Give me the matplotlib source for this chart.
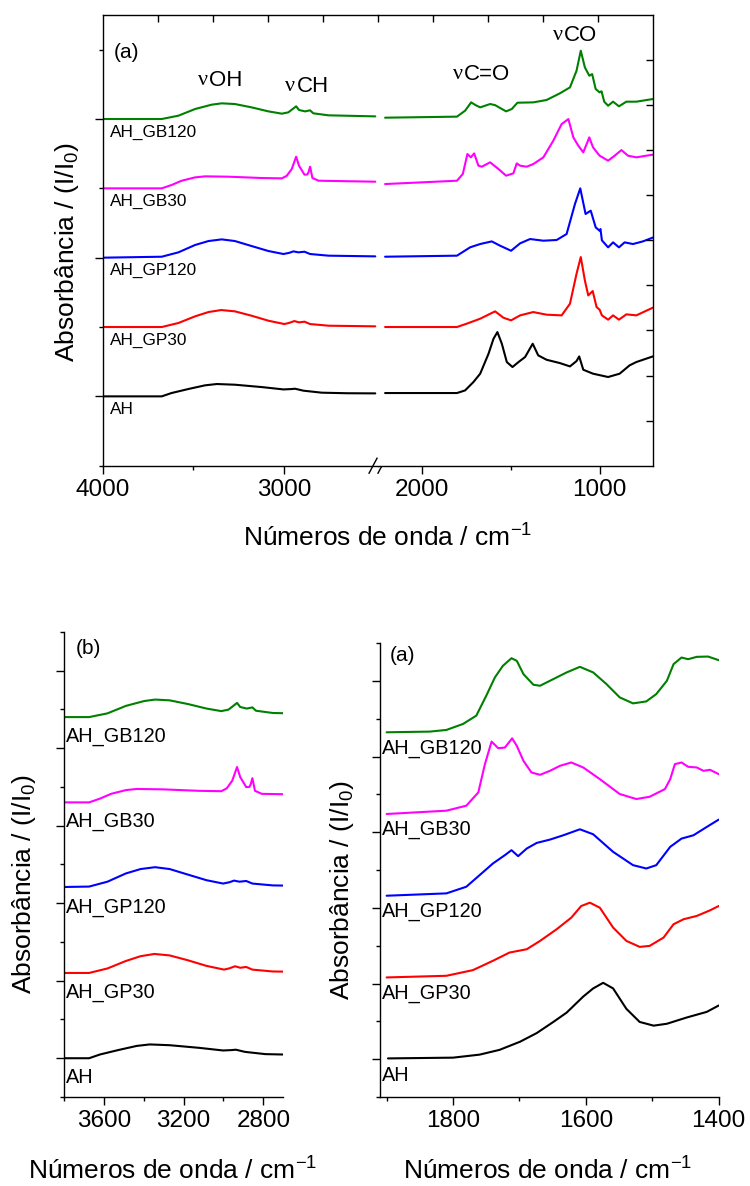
import numpy as np
import matplotlib.pyplot as plt
from matplotlib.ticker import MultipleLocator, FixedLocator

plt.rcParams['font.family'] = ['Liberation Sans', 'DejaVu Sans']
plt.rcParams['mathtext.default'] = 'regular'
plt.rcParams['axes.linewidth'] = 1.0

samples = ['AH', 'AH_GP30', 'AH_GP120', 'AH_GB30', 'AH_GB120']
colors = ['black', '#ff0000', '#0000ff', '#ff00ff', '#008000']

# (wavenumber cm-1, absorbance), each relative to its own baseline
# 4000-2500 cm-1 region (top panel left part and panel b)
AH_HI = [(4000, 0.0), (3674, 0.0), (3620, 0.048), (3527, 0.106), (3435, 0.159), (3370, 0.178),
         (3270, 0.168), (3122, 0.134), (3002, 0.10), (2960, 0.105), (2938, 0.11), (2892, 0.082),
         (2790, 0.053), (2650, 0.045), (2495, 0.043)]
GP30_HI = [(4000, 0.0), (3674, 0.0), (3582, 0.058), (3490, 0.154), (3416, 0.216), (3346, 0.245),
           (3270, 0.226), (3178, 0.163), (3085, 0.091), (2997, 0.043), (2970, 0.06), (2942, 0.086),
           (2916, 0.067), (2886, 0.077), (2855, 0.043), (2753, 0.019), (2495, 0.01)]
GP120_HI = [(4000, 0.0), (3674, 0.014), (3582, 0.077), (3490, 0.183), (3416, 0.24), (3343, 0.264),
            (3270, 0.24), (3178, 0.168), (3085, 0.096), (3002, 0.053), (2970, 0.07), (2947, 0.091),
            (2920, 0.077), (2886, 0.086), (2855, 0.053), (2753, 0.029), (2495, 0.019)]
GB30_HI = [(4000, 0.0), (3674, 0.0), (3620, 0.048), (3564, 0.11), (3490, 0.158), (3435, 0.173),
           (3306, 0.168), (3122, 0.149), (3011, 0.144), (2984, 0.18), (2956, 0.28), (2932, 0.456),
           (2916, 0.326), (2886, 0.197), (2870, 0.2), (2864, 0.23), (2855, 0.312), (2842, 0.149),
           (2808, 0.11), (2495, 0.096)]
GB120_HI = [(4000, 0.0), (3674, 0.0), (3582, 0.048), (3490, 0.144), (3398, 0.207), (3343, 0.226),
            (3270, 0.216), (3178, 0.168), (3085, 0.11), (3011, 0.077), (2975, 0.096), (2932, 0.183),
            (2916, 0.13), (2883, 0.11), (2855, 0.125), (2837, 0.082), (2753, 0.053), (2495, 0.038)]

# 2200-700 cm-1 region (top panel right part)
AH_MID = [(2210, 0.048), (1805, 0.048), (1759, 0.086), (1712, 0.207), (1674, 0.327), (1627, 0.615),
          (1599, 0.831), (1577, 0.927), (1552, 0.759), (1524, 0.495), (1492, 0.423), (1458, 0.495),
          (1421, 0.567), (1378, 0.759), (1347, 0.591), (1300, 0.528), (1225, 0.48), (1168, 0.432),
          (1131, 0.509), (1116, 0.576), (1093, 0.384), (1038, 0.327), (953, 0.279), (888, 0.327),
          (832, 0.447), (794, 0.495), (701, 0.576)]
GP30_MID = [(2210, 0.0), (1805, 0.0), (1750, 0.048), (1674, 0.12), (1590, 0.226), (1543, 0.134),
            (1500, 0.096), (1449, 0.168), (1375, 0.216), (1300, 0.178), (1215, 0.168), (1168, 0.336),
            (1131, 0.768), (1107, 1.009), (1084, 0.672), (1065, 0.456), (1040, 0.519), (1018, 0.288),
            (1001, 0.25), (988, 0.168), (953, 0.106), (925, 0.168), (892, 0.106), (850, 0.183),
            (794, 0.168), (701, 0.279)]
GP120_MID = [(2210, 0.014), (1805, 0.029), (1731, 0.149), (1703, 0.173), (1674, 0.197), (1609, 0.235),
             (1562, 0.173), (1500, 0.10), (1449, 0.207), (1393, 0.269), (1318, 0.245), (1243, 0.255),
             (1187, 0.341), (1140, 0.773), (1110, 1.0), (1080, 0.63), (1051, 0.678), (1023, 0.437),
             (1001, 0.389), (996, 0.413), (988, 0.25), (953, 0.149), (925, 0.221), (892, 0.149),
             (860, 0.221), (813, 0.197), (757, 0.235), (701, 0.29)]
GB30_MID = [(2210, 0.062), (1805, 0.11), (1772, 0.207), (1746, 0.495), (1727, 0.447), (1708, 0.504),
            (1684, 0.327), (1665, 0.312), (1618, 0.375), (1571, 0.279), (1528, 0.183), (1487, 0.216),
            (1468, 0.36), (1449, 0.327), (1412, 0.312), (1375, 0.35), (1318, 0.447), (1262, 0.687),
            (1215, 0.927), (1177, 0.999), (1149, 0.735), (1121, 0.615), (1093, 0.519), (1059, 0.735),
            (1038, 0.591), (1001, 0.471), (953, 0.399), (916, 0.471), (878, 0.552), (841, 0.471),
            (794, 0.447), (738, 0.471), (701, 0.485)]
GB120_MID = [(2210, 0.019), (1805, 0.034), (1759, 0.12), (1725, 0.24), (1700, 0.2), (1674, 0.168),
             (1618, 0.216), (1590, 0.2), (1528, 0.11), (1496, 0.144), (1464, 0.235), (1375, 0.24),
             (1300, 0.274), (1225, 0.37), (1168, 0.456), (1131, 0.696), (1107, 0.985), (1084, 0.745),
             (1059, 0.624), (1043, 0.648), (1023, 0.432), (1001, 0.384), (990, 0.40), (975, 0.25),
             (953, 0.192), (925, 0.25), (892, 0.183), (850, 0.25), (794, 0.25), (701, 0.288)]

# 1900-1400 cm-1 region (bottom right panel, normalised separately)
AH_LO = [(1898, 0.01), (1800, 0.02), (1760, 0.06), (1730, 0.123), (1699, 0.231), (1674, 0.345),
         (1649, 0.492), (1629, 0.615), (1604, 0.827), (1589, 0.935), (1574, 1.009), (1559, 0.935),
         (1539, 0.665), (1519, 0.492), (1498, 0.443), (1478, 0.468), (1448, 0.551), (1418, 0.625),
         (1400, 0.709)]
GP30_LO = [(1900, 0.0), (1810, 0.022), (1770, 0.097), (1740, 0.22), (1715, 0.329), (1689, 0.373),
           (1669, 0.483), (1644, 0.637), (1622, 0.79), (1607, 0.944), (1594, 0.988), (1579, 0.922),
           (1559, 0.659), (1539, 0.483), (1519, 0.404), (1504, 0.417), (1483, 0.527), (1468, 0.703),
           (1453, 0.769), (1433, 0.813), (1413, 0.887), (1400, 0.944)]
GP120_LO = [(1900, 0.0), (1810, 0.031), (1780, 0.119), (1760, 0.272), (1740, 0.426), (1722, 0.536),
            (1712, 0.602), (1702, 0.523), (1689, 0.624), (1674, 0.698), (1654, 0.742), (1634, 0.799),
            (1609, 0.878), (1589, 0.812), (1559, 0.58), (1529, 0.404), (1509, 0.36), (1494, 0.404),
            (1473, 0.646), (1456, 0.755), (1438, 0.799), (1418, 0.909), (1400, 1.006)]
GB30_LO = [(1900, 0.0), (1810, 0.044), (1780, 0.11), (1762, 0.285), (1752, 0.659), (1742, 0.957),
           (1732, 0.87), (1722, 0.878), (1711, 1.0), (1704, 0.9), (1694, 0.703), (1682, 0.549),
           (1669, 0.518), (1654, 0.571), (1639, 0.637), (1622, 0.681), (1604, 0.615), (1579, 0.461),
           (1549, 0.264), (1524, 0.198), (1504, 0.228), (1481, 0.329), (1473, 0.461), (1466, 0.659),
           (1456, 0.681), (1446, 0.624), (1433, 0.615), (1423, 0.571), (1413, 0.584), (1400, 0.527)]
GB120_LO = [(1900, 0.0), (1835, 0.009), (1810, 0.031), (1785, 0.11), (1765, 0.22), (1750, 0.483),
            (1737, 0.725), (1725, 0.878), (1712, 0.979), (1704, 0.944), (1694, 0.769), (1679, 0.628),
            (1669, 0.615), (1649, 0.703), (1629, 0.791), (1609, 0.865), (1589, 0.791), (1569, 0.637),
            (1549, 0.461), (1529, 0.382), (1509, 0.408), (1494, 0.505), (1478, 0.681), (1468, 0.9),
            (1456, 0.988), (1446, 0.966), (1433, 0.997), (1416, 1.001), (1400, 0.953)]

HI = [AH_HI, GP30_HI, GP120_HI, GB30_HI, GB120_HI]
MID = [AH_MID, GP30_MID, GP120_MID, GB30_MID, GB120_MID]
LO = [AH_LO, GP30_LO, GP120_LO, GB30_LO, GB120_LO]

# vertical stacking step of each panel
step_top, step_b, step_c = 1.0, 1.1, 1.08

W, H = 750, 1186
fig = plt.figure(figsize=(W / 100, H / 100), dpi=100)


def rect(x0, y0, x1, y1):
    # pixel box measured from top-left -> figure fraction
    return [x0 / W, 1 - y1 / H, (x1 - x0) / W, (y1 - y0) / H]


def style(ax):
    ax.tick_params(which='major', direction='out', length=6, width=1,
                   labelsize=17.5, pad=3.4)
    ax.tick_params(which='minor', direction='out', length=3, width=1)


def draw(ax, region, step):
    for i, spec in enumerate(region):
        x = np.array([p[0] for p in spec])
        y = np.array([p[1] for p in spec]) + i * step
        ax.plot(x, y, color=colors[i], lw=1.5, solid_joinstyle='round',
                solid_capstyle='round')


def nu_label(ax, x, y, rest, size=16):
    ax.text(x, y, 'ν', fontsize=size, family='Liberation Serif', ha='left', va='center')
    ax.annotate(rest, (x, y), xytext=(0.5 * size, 0), textcoords='offset points',
                fontsize=size, ha='left', va='center')


# ---------------- top panel (broken axis) ----------------
ax_l = fig.add_axes(rect(102.7, 15, 378, 465.7))
ax_r = fig.add_axes(rect(378, 15, 653, 465.7))
for ax in (ax_l, ax_r):
    style(ax)
    ax.set_ylim(-1, 5.5)
ax_l.set_xlim(4000, 2480)
ax_r.set_xlim(2250, 700)
draw(ax_l, HI, step_top)
draw(ax_r, MID, step_top)

ax_l.spines['right'].set_visible(False)
ax_r.spines['left'].set_visible(False)
ax_r.tick_params(axis='y', which='both', left=False, labelleft=False)
ax_l.yaxis.set_major_locator(MultipleLocator(2))
ax_l.yaxis.set_minor_locator(MultipleLocator(1))
ax_l.set_yticklabels([])
ax_l.xaxis.set_major_locator(MultipleLocator(1000))
ax_l.xaxis.set_minor_locator(FixedLocator([3500]))
ax_r.xaxis.set_major_locator(MultipleLocator(1000))
ax_r.xaxis.set_minor_locator(MultipleLocator(500))

# break marks on the bottom axis
kw = dict(transform=ax_l.transAxes, color='k', lw=1.0, clip_on=False)
for xc in (0.982, 1.0145):
    ax_l.plot([xc - 0.0145, xc + 0.0145], [-0.0166, 0.0166], **kw)

# top / right inner ticks of the frame
ax_o = fig.add_axes(rect(102.7, 15, 653, 465.7))
ax_o.patch.set_visible(False)
for s in ax_o.spines.values():
    s.set_visible(False)
ax_o.set_xlim(0, 10)
ax_o.set_ylim(0, 10)
ax_o.set_xticks(range(1, 10))
ax_o.set_yticks(range(1, 10))
ax_o.tick_params(direction='in', length=5, width=1, top=True, bottom=False,
                 left=False, right=True, labelbottom=False, labelleft=False)

for i, name in enumerate(samples):
    ax_l.text(3960, i * step_top - 0.19, name, fontsize=12.4, ha='left', va='center')
ax_l.text(3866, 4.96, '(a)', fontsize=15, ha='center', va='center')
nu_label(ax_l, 3473, 4.55, 'OH')
nu_label(ax_l, 2992, 4.47, 'CH')
nu_label(ax_r, 1826, 4.64, 'C=O')
nu_label(ax_r, 1264, 5.2, 'CO')

fig.text(67 / W, 1 - 251.6 / H, 'Absorbância / (I/I$_0$)', rotation=90,
         ha='center', va='center', fontsize=19)
fig.text(388 / W, 1 - 547 / H, 'Números de onda / cm$^{-1}$', ha='center',
         va='baseline', fontsize=19)

# ---------------- panel (b): 3800-2700 ----------------
axb = fig.add_axes(rect(64, 631.8, 283.3, 1097))
style(axb)
draw(axb, HI, step_b)
axb.set_xlim(3800, 2700)
axb.set_ylim(-0.5, 5.5)
axb.xaxis.set_major_locator(MultipleLocator(400))
axb.xaxis.set_minor_locator(MultipleLocator(200))
axb.yaxis.set_major_locator(MultipleLocator(1))
axb.yaxis.set_minor_locator(MultipleLocator(0.5))
axb.set_yticklabels([])
axb.spines['top'].set_visible(False)
axb.spines['right'].set_visible(False)
for i, name in enumerate(samples):
    axb.text(3792, i * step_b - 0.25, name, fontsize=14.3, ha='left', va='center')
axb.text(3675, 5.28, '(b)', fontsize=15, ha='center', va='center')
fig.text(24 / W, 1 - 884 / H, 'Absorbância / (I/I$_0$)', rotation=90,
         ha='center', va='center', fontsize=19)
fig.text(172.5 / W, 1 - 1180 / H, 'Números de onda / cm$^{-1}$', ha='center',
         va='baseline', fontsize=19)

# ---------------- panel (a): 1900-1400 ----------------
axc = fig.add_axes(rect(380, 643, 718.7, 1097))
style(axc)
draw(axc, LO, step_c)
axc.set_xlim(1910, 1400)
axc.set_ylim(-0.5, 5.5)
axc.xaxis.set_major_locator(MultipleLocator(200))
axc.xaxis.set_minor_locator(MultipleLocator(100))
axc.yaxis.set_major_locator(MultipleLocator(1))
axc.yaxis.set_minor_locator(MultipleLocator(0.5))
axc.set_yticklabels([])
axc.spines['top'].set_visible(False)
axc.spines['right'].set_visible(False)
for i, name in enumerate(samples):
    axc.text(1907, i * step_c - 0.21, name, fontsize=14.3, ha='left', va='center')
axc.text(1876, 5.33, '(a)', fontsize=15, ha='center', va='center')
fig.text(342 / W, 1 - 889.6 / H, 'Absorbância / (I/I$_0$)', rotation=90,
         ha='center', va='center', fontsize=19)
fig.text(548 / W, 1 - 1180 / H, 'Números de onda / cm$^{-1}$', ha='center',
         va='baseline', fontsize=19)

fig.savefig('out.png', dpi=100)
